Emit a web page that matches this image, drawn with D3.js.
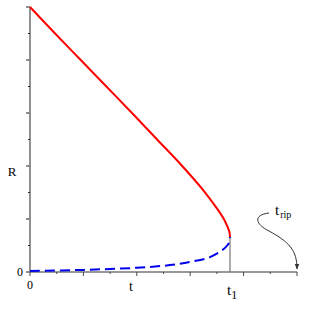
<!DOCTYPE html>
<html>
<head>
<meta charset="utf-8">
<script src="https://cdn.jsdelivr.net/npm/d3@7"></script>
<style>
  body { margin: 0; background: #fff; }
  svg { display: block; font-family: "Liberation Serif", "Times New Roman", serif; }
</style>
</head>
<body>
<svg id="chart" width="319" height="312"></svg>
<script>
// stable branch (red, solid) and unstable branch (blue, dashed)
const stableT = [0, 0.47, 0.95, 1.43, 1.91, 2.38, 2.85, 3.28, 3.50, 3.63, 3.70, 3.735, 3.745];
const stableR = [5, 4.5, 4.0, 3.5, 3.0, 2.5, 2.0, 1.5, 1.2, 1.0, 0.85, 0.75, 0.66];
const unstableT = [0, 1, 2, 2.62, 3.0, 3.37, 3.61, 3.70, 3.735, 3.745];
const unstableR = [0.02, 0.04, 0.08, 0.13, 0.19, 0.28, 0.42, 0.51, 0.58, 0.66];
const t1 = 3.745;
const majorTicks = [0, 1, 2, 3, 4, 5];
const minorTicks = [0.5, 1.5, 2.5, 3.5, 4.5];

const svg = d3.select("svg#chart");
const plotLeft = 30, plotRight = 297, plotTop = 7, plotBottom = 272;

const x = d3.scaleLinear().domain([0, 5]).range([plotLeft, plotRight]);
const y = d3.scaleLinear().domain([0, 5]).range([plotBottom, plotTop]);

const axisColor = "#767676";

// axes lines
svg.append("line")
  .attr("x1", plotLeft).attr("x2", plotLeft)
  .attr("y1", y(5)).attr("y2", y(0))
  .attr("stroke", axisColor).attr("stroke-width", 1.6);
svg.append("line")
  .attr("x1", x(0)).attr("x2", x(5))
  .attr("y1", plotBottom).attr("y2", plotBottom)
  .attr("stroke", axisColor).attr("stroke-width", 1.6);

// y ticks
svg.selectAll("ymaj").data(majorTicks).enter().append("line")
  .attr("x1", plotLeft - 4).attr("x2", plotLeft)
  .attr("y1", d => y(d)).attr("y2", d => y(d))
  .attr("stroke", axisColor).attr("stroke-width", 1.6);
svg.selectAll("ymin").data(minorTicks).enter().append("line")
  .attr("x1", plotLeft - 2).attr("x2", plotLeft)
  .attr("y1", d => y(d)).attr("y2", d => y(d))
  .attr("stroke", "#222").attr("stroke-width", 1);

// x ticks
svg.selectAll("xmaj").data(majorTicks).enter().append("line")
  .attr("x1", d => x(d)).attr("x2", d => x(d))
  .attr("y1", plotBottom).attr("y2", plotBottom + 4)
  .attr("stroke", "#444").attr("stroke-width", 1);
svg.selectAll("xmin").data(minorTicks).enter().append("line")
  .attr("x1", d => x(d)).attr("x2", d => x(d))
  .attr("y1", plotBottom).attr("y2", plotBottom + 2)
  .attr("stroke", "#444").attr("stroke-width", 1);

// vertical line at t1
svg.append("line")
  .attr("x1", x(t1)).attr("x2", x(t1))
  .attr("y1", y(unstableR[unstableR.length - 1])).attr("y2", plotBottom)
  .attr("stroke", axisColor).attr("stroke-width", 1.2);

const line = d3.line()
  .x(d => x(d[0]))
  .y(d => y(d[1]))
  .curve(d3.curveCatmullRom.alpha(0.5));

svg.append("path")
  .attr("d", line(d3.zip(unstableT, unstableR)))
  .attr("fill", "none")
  .attr("stroke", "#0000ee")
  .attr("stroke-width", 2)
  .attr("stroke-dasharray", "10,5");

svg.append("path")
  .attr("d", line(d3.zip(stableT, stableR)))
  .attr("fill", "none")
  .attr("stroke", "#ff0000")
  .attr("stroke-width", 2);

// labels
svg.append("text").attr("x", 20).attr("y", plotBottom + 4)
  .attr("text-anchor", "middle").style("font-size", "12px").text("0");
svg.append("text").attr("x", x(0)).attr("y", plotBottom + 17)
  .attr("text-anchor", "middle").style("font-size", "12px").text("0");
svg.append("text").attr("x", 131).attr("y", plotBottom + 19)
  .attr("text-anchor", "middle").style("font-size", "14px").text("t");
svg.append("text").attr("x", 12).attr("y", 176)
  .attr("text-anchor", "middle").style("font-size", "13px").text("R");

const t1Label = svg.append("text").attr("x", x(t1) - 3).attr("y", plotBottom + 23)
  .style("font-size", "15px");
t1Label.append("tspan").text("t");
t1Label.append("tspan").attr("dy", 4).style("font-size", "12px").text("1");

const ripLabel = svg.append("text").attr("x", 275).attr("y", 215)
  .style("font-size", "15px");
ripLabel.append("tspan").text("t");
ripLabel.append("tspan").attr("dy", 3).attr("dx", 1).style("font-size", "10px").text("rip");

// curly arrow pointing to t_rip on the axis
svg.append("defs").append("marker")
  .attr("id", "arrow").attr("viewBox", "0 0 10 10")
  .attr("refX", 9).attr("refY", 5)
  .attr("markerWidth", 6).attr("markerHeight", 6)
  .attr("orient", "auto")
  .append("path").attr("d", "M0,1 L10,5 L0,9 Z").attr("fill", "#333");

const ax = x(5);
svg.append("path")
  .attr("d", `M${ax - 28},${213} C${ax - 44},${215} ${ax - 42},${224} ${ax - 28},${231} C${ax - 8},${242} ${ax},${250} ${ax},${plotBottom - 3}`)
  .attr("fill", "none")
  .attr("stroke", "#333")
  .attr("stroke-width", 1)
  .attr("marker-end", "url(#arrow)");
</script>
</body>
</html>
